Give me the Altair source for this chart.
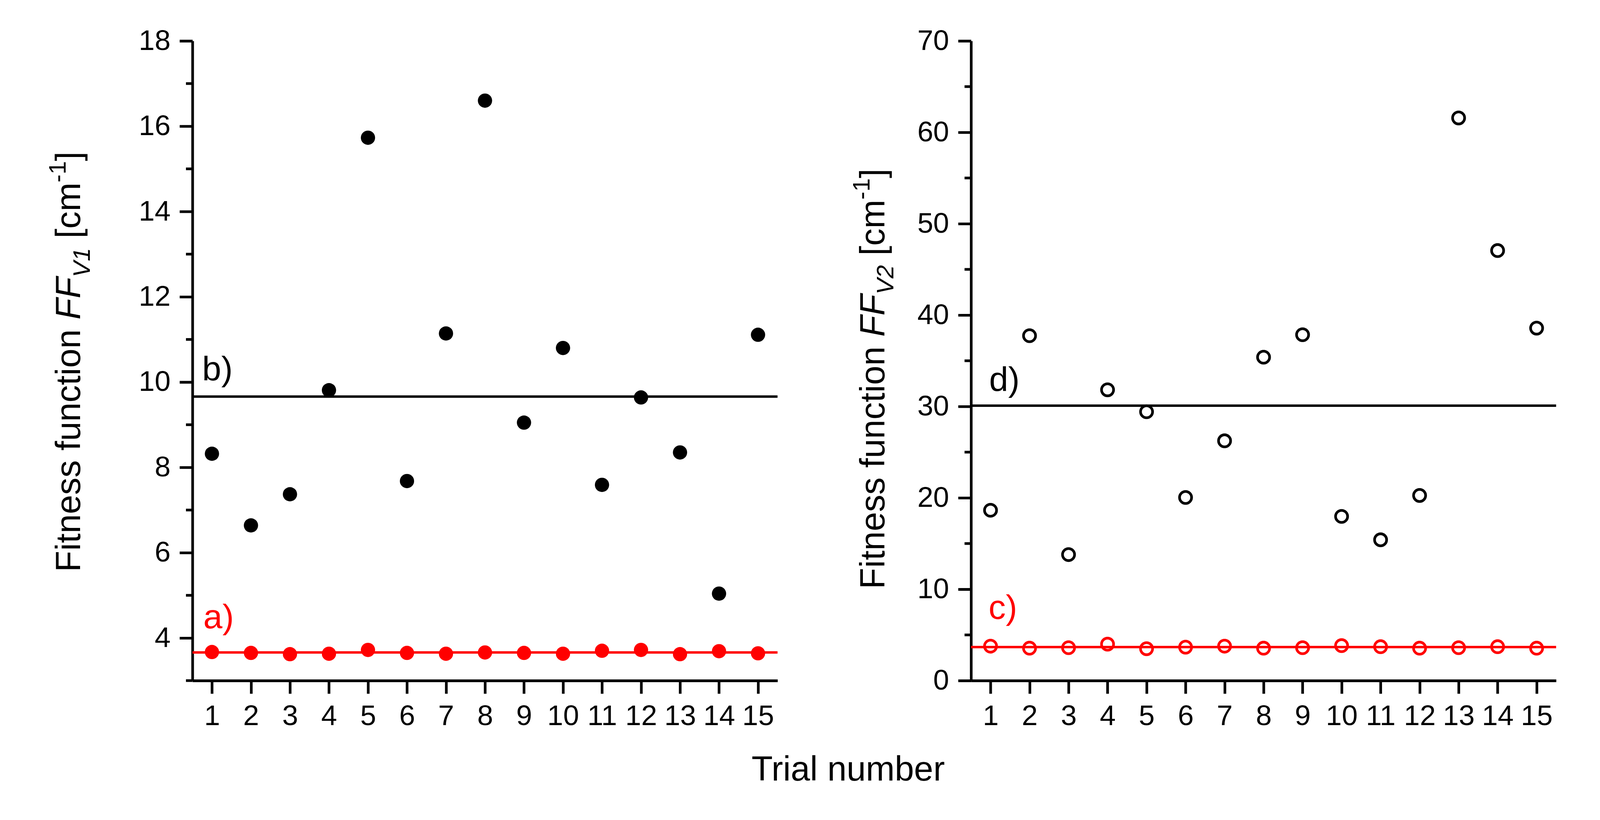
import altair as alt
import pandas as pd

FONT = "Liberation Sans"
RED = "#ff0000"
BLACK = "#000000"

# ---------------- data ----------------
trials = list(range(1, 16))
left_black = [8.32, 6.64, 7.37, 9.81, 15.73, 7.68, 11.14, 16.60, 9.05, 10.80, 7.59, 9.64, 8.35, 5.04, 11.11]
left_red = [3.67, 3.65, 3.62, 3.63, 3.72, 3.65, 3.63, 3.66, 3.65, 3.63, 3.70, 3.72, 3.62, 3.69, 3.64]
right_black = [18.64, 37.74, 13.79, 31.82, 29.42, 20.04, 26.24, 35.39, 37.85, 17.97, 15.41, 20.26, 61.57, 47.06, 38.57]
right_red = [3.77, 3.55, 3.60, 3.99, 3.49, 3.66, 3.77, 3.55, 3.60, 3.83, 3.71, 3.55, 3.60, 3.71, 3.55]

left_means = [9.66, 3.66]     # b) black, a) red
right_means = [30.09, 3.67]   # d) black, c) red

left_labels = ["b)", "a)"]
left_label_x = [0.75, 0.78]
left_label_y = [10.04, 4.23]
right_labels = ["d)", "c)"]
right_label_x = [0.965, 0.95]
right_label_y = [31.7, 6.77]

left_domain = [3, 18]
left_major = [4, 6, 8, 10, 12, 14, 16, 18]
left_minor = [3, 5, 7, 9, 11, 13, 15, 17]
right_domain = [0, 70]
right_major = [0, 10, 20, 30, 40, 50, 60, 70]
right_minor = [5, 15, 25, 35, 45, 55, 65]
x_domain = [0.5, 15.5]

W, H = 1536, 1680
TITLE_FS = 91
SUB_FS = 63
TICK_FS = 75
LABEL_FS = 90

# Arial / Liberation Sans advance widths (per 1000 em)
ADV = {"F": 611, "i": 222, "t": 278, "n": 556, "e": 556, "s": 500, " ": 278, "f": 278,
       "u": 556, "c": 500, "o": 556, "[": 278, "]": 278, "m": 833, "V": 667, "1": 556,
       "2": 556, "-": 333}


def text_width(txt, fs):
    return sum(ADV.get(ch, 556) for ch in txt) * fs / 1000.0


ONE = pd.DataFrame({"k": [0]})


def y_title(sub, base_x, start_y, sub_shift, sup_shift):
    pieces = [("Fitness function ", TITLE_FS, "normal", 0),
              ("FF", TITLE_FS, "italic", 0),
              (sub, SUB_FS, "italic", sub_shift),
              (" [cm", TITLE_FS, "normal", 0),
              ("-1", SUB_FS, "normal", sup_shift),
              ("]", TITLE_FS, "normal", 0)]
    layers = []
    y = start_y
    for txt, fs, style, shift in pieces:
        lead = len(txt) - len(txt.lstrip(" "))
        shown = txt.strip(" ")
        y_draw = y - text_width(" " * lead, fs)
        layers.append(
            alt.Chart(ONE).mark_text(angle=270, align="left", baseline="alphabetic",
                                     font=FONT, fontSize=fs, fontStyle=style, color=BLACK)
            .encode(x=alt.value(base_x + shift), y=alt.value(y_draw), text=alt.value(shown))
        )
        y -= text_width(txt, fs)
    return layers


def spacer(px, py):
    # tiny white rule that pins the outer edge of the drawing
    return alt.Chart(ONE).mark_rule(color="white", strokeWidth=1).encode(
        x=alt.value(px), x2=alt.value(px + 1), y=alt.value(py), y2=alt.value(py))


def panel(black, red, means, labels, lab_x, lab_y, domain, major, minor, filled,
          title_sub, title_x, title_y, sub_shift, sup_shift, extra=()):
    df = pd.DataFrame({"trial": trials, "black": black, "red": red})
    xs = alt.Scale(domain=x_domain, nice=False, zero=False)
    ys = alt.Scale(domain=domain, nice=False, zero=False)
    xaxis = alt.Axis(values=trials, format="d", title=None, grid=False, tickSize=34, tickWidth=7,
                     domainWidth=7, domainColor=BLACK, tickColor=BLACK, labelColor=BLACK,
                     labelFont=FONT, labelFontSize=TICK_FS, labelPadding=23, labelFlush=False,
                     labelOverlap=False)
    yaxis = alt.Axis(values=major, format="d", title=None, grid=False, tickSize=34, tickWidth=7,
                     domainWidth=7, domainColor=BLACK, tickColor=BLACK, labelColor=BLACK,
                     labelFont=FONT, labelFontSize=TICK_FS, labelPadding=24, labelFlush=False,
                     labelOverlap=False)

    base = alt.Chart(df)
    if filled:
        black_pts = base.mark_circle(size=1400, color=BLACK, opacity=1)
        red_pts = base.mark_circle(size=1400, color=RED, opacity=1)
    else:
        black_pts = base.mark_point(shape="circle", filled=False, size=1000, strokeWidth=7,
                                    color=BLACK, opacity=1)
        red_pts = base.mark_point(shape="circle", filled=False, size=1000, strokeWidth=7,
                                  color=RED, opacity=1)
    black_layer = black_pts.encode(x=alt.X("trial:Q", scale=xs, axis=xaxis),
                                   y=alt.Y("black:Q", scale=ys, axis=yaxis))
    red_layer = red_pts.encode(x=alt.X("trial:Q", scale=xs), y=alt.Y("red:Q", scale=ys))

    minor_df = pd.DataFrame({"m": minor})
    minor_layer = alt.Chart(minor_df).mark_rule(color=BLACK, strokeWidth=7).encode(
        y=alt.Y("m:Q", scale=ys), x=alt.value(-17), x2=alt.value(0))

    mean_df = pd.DataFrame({"mean": means, "col": [BLACK, RED]})
    mean_layer = alt.Chart(mean_df).mark_rule(strokeWidth=6.5).encode(
        y=alt.Y("mean:Q", scale=ys),
        color=alt.Color("col:N", scale=None))

    lab_df = pd.DataFrame({"lab": labels, "lx": lab_x, "ly": lab_y, "col": [BLACK, RED]})
    lab_layer = alt.Chart(lab_df).mark_text(align="left", baseline="alphabetic", font=FONT,
                                            fontSize=LABEL_FS).encode(
        x=alt.X("lx:Q", scale=xs), y=alt.Y("ly:Q", scale=ys), text="lab:N",
        color=alt.Color("col:N", scale=None))

    layers = [minor_layer, mean_layer, black_layer, red_layer, lab_layer]
    layers += y_title(title_sub, title_x, title_y, sub_shift, sup_shift)
    layers += list(extra)
    return alt.layer(*layers).properties(width=W, height=H)


xtitle = alt.Chart(ONE).mark_text(
    align="center", baseline="alphabetic", font=FONT, fontSize=TITLE_FS, color=BLACK
).encode(x=alt.value(1721.5), y=alt.value(1942.5), text=alt.value("Trial number"))

left = panel(left_black, left_red, left_means, left_labels, left_label_x, left_label_y,
             left_domain, left_major, left_minor, True,
             "V1", -294.5, 1394.5, 25, -38, extra=[xtitle, spacer(-496.5, -72)])
right = panel(right_black, right_red, right_means, right_labels, right_label_x, right_label_y,
              right_domain, right_major, right_minor, False,
              "V2", -227, 1439.5, 23, -39, extra=[spacer(1641.5, 1986)])

chart = alt.hconcat(left, right).properties(
    spacing=508, bounds="flush",
    padding={"left": 0, "top": 0, "right": 0, "bottom": 0},
    background="white",
).configure_view(strokeWidth=0)

chart.save("out.html", embed_options={"renderer": "svg", "actions": False})
